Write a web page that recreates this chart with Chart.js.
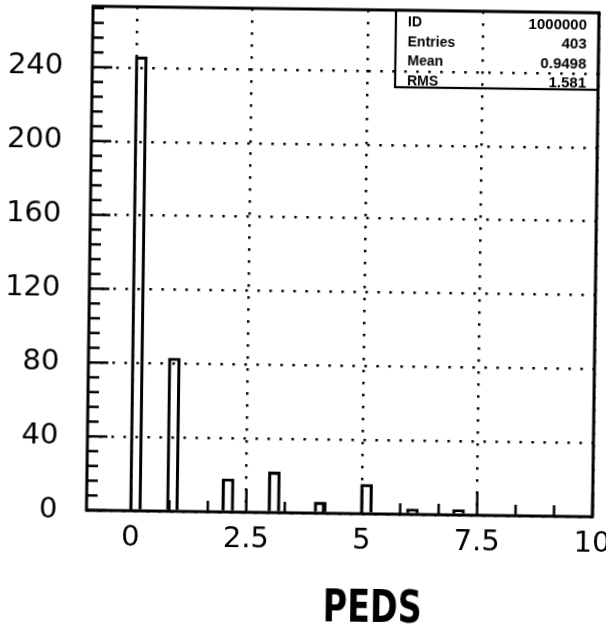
<!DOCTYPE html>
<html>
<head>
<meta charset="utf-8">
<script src="https://cdn.jsdelivr.net/npm/chart.js@4.4.1/dist/chart.umd.min.js"></script>
<style>
  html, body { margin: 0; padding: 0; background: #fff; overflow: hidden; }
  #wrap { width: 609px; height: 638px; transform: rotate(0.75deg); transform-origin: 50% 50%; }
  canvas { display: block; }
</style>
</head>
<body>
<div id="wrap"><canvas id="c" width="609" height="638"></canvas></div>
<script>
// PEDS histogram: bin centres and entries per bin
const binCenters = [0.1, 0.9, 2.1, 3.1, 4.1, 5.1, 6.1, 7.1];
const binCounts  = [246, 83, 18, 22, 6, 16, 3, 3];

// axis tick values
const xTickValues = [0, 2.5, 5, 7.5, 10];
const yTickValues = [0, 40, 80, 120, 160, 200, 240];

// statistics box rows
const statNames  = ['ID', 'Entries', 'Mean', 'RMS'];
const statValues = ['1000000', '403', '0.9498', '1.581'];

const axisTitle = 'PEDS';

const X_MIN = -0.96, X_MAX = 10;
const Y_MIN = 0, Y_MAX = 273;
const X_MINOR_STEP = 2.5 / 3;
const Y_MINOR_STEP = 8, Y_MAJOR_STEP = 40;

const tickFont = { family: '"DejaVu Sans", sans-serif', size: 29 };

// frame, inward tick marks, statistics box and axis title
const framePlugin = {
  id: 'frameAndStats',
  afterDraw(chart) {
    const { ctx, chartArea: a, scales: { x, y } } = chart;
    ctx.save();
    ctx.strokeStyle = '#000';
    ctx.fillStyle = '#000';
    ctx.lineCap = 'butt';

    const seg = (x1, y1, x2, y2) => {
      ctx.beginPath(); ctx.moveTo(x1, y1); ctx.lineTo(x2, y2); ctx.stroke();
    };

    // y ticks along the left edge
    ctx.lineWidth = 2.5;
    for (let i = 0; ; i++) {
      const v = Y_MIN + i * Y_MINOR_STEP;
      if (v > Y_MAX) break;
      const py = y.getPixelForValue(v);
      const len = (v % Y_MAJOR_STEP === 0) ? 20 : 11;
      seg(a.left, py, a.left + len, py);
    }
    // x ticks along the bottom edge
    for (let i = 0; ; i++) {
      const v = i * X_MINOR_STEP;
      if (v > X_MAX + 1e-6) break;
      const px = x.getPixelForValue(v);
      const len = (i % 3 === 0) ? 23 : 11;
      seg(px, a.bottom, px, a.bottom - len);
    }

    // frame
    ctx.lineWidth = 3;
    ctx.strokeRect(a.left, a.top, a.right - a.left, a.bottom - a.top);

    // statistics box in the top-right corner
    const boxW = 203, boxH = 77;
    const bx = a.right - boxW, by = a.top;
    ctx.lineWidth = 2.2;
    ctx.strokeRect(bx, by, boxW, boxH);
    ctx.textBaseline = 'middle';
    const rowH = 19.5;
    for (let i = 0; i < statNames.length; i++) {
      const cy = by + 12.5 + i * rowH;
      ctx.font = 'bold 14px "Liberation Sans", Arial, sans-serif';
      ctx.textAlign = 'left';
      ctx.fillText(statNames[i], bx + 12, cy);
      ctx.font = 'bold 15px "Liberation Sans", Arial, sans-serif';
      ctx.textAlign = 'right';
      ctx.fillText(statValues[i], a.right - 12, cy);
    }

    // x axis title
    ctx.font = 'bold 44px "Liberation Sans Narrow", "DejaVu Sans Condensed", "Liberation Sans", sans-serif';
    ctx.textAlign = 'center';
    ctx.textBaseline = 'middle';
    const w = ctx.measureText(axisTitle).width;
    const target = 99;
    ctx.translate(376, 610);
    ctx.scale(target / w, 1);
    ctx.fillText(axisTitle, 0, 0);
    ctx.restore();
  }
};

new Chart(document.getElementById('c'), {
  type: 'bar',
  data: {
    datasets: [{
      data: binCenters.map((c, i) => ({ x: c, y: binCounts[i] })),
      backgroundColor: 'rgba(0,0,0,0)',
      borderColor: '#000',
      borderWidth: 2.5,
      borderSkipped: 'start',
      barThickness: 12
    }]
  },
  options: {
    responsive: false,
    animation: false,
    events: [],
    layout: { padding: { top: 9, right: 14, left: 0, bottom: 0 } },
    plugins: { legend: { display: false }, tooltip: { enabled: false } },
    scales: {
      x: {
        type: 'linear',
        min: X_MIN,
        max: X_MAX,
        offset: false,
        afterBuildTicks: s => { s.ticks = xTickValues.map(v => ({ value: v })); },
        afterFit: s => { s.height = 125; s.paddingLeft = 0; s.paddingRight = 0; },
        ticks: {
          autoSkip: false,
          maxRotation: 0,
          padding: 10,
          color: '#000',
          font: tickFont,
          callback: v => String(v)
        },
        grid: {
          color: '#000',
          lineWidth: 2.5,
          drawTicks: false,
          offset: false
        },
        border: { display: false, dash: [2.5, 9.5] }
      },
      y: {
        type: 'linear',
        min: Y_MIN,
        max: Y_MAX,
        afterBuildTicks: s => { s.ticks = yTickValues.map(v => ({ value: v })); },
        afterFit: s => { s.width = 89; s.paddingTop = 0; s.paddingBottom = 0; },
        ticks: {
          padding: 29,
          color: '#000',
          font: tickFont,
          callback: v => String(v)
        },
        grid: {
          color: '#000',
          lineWidth: 2.5,
          drawTicks: false
        },
        border: { display: false, dash: [2.5, 9.5] }
      }
    }
  },
  plugins: [framePlugin]
});
</script>
</body>
</html>
